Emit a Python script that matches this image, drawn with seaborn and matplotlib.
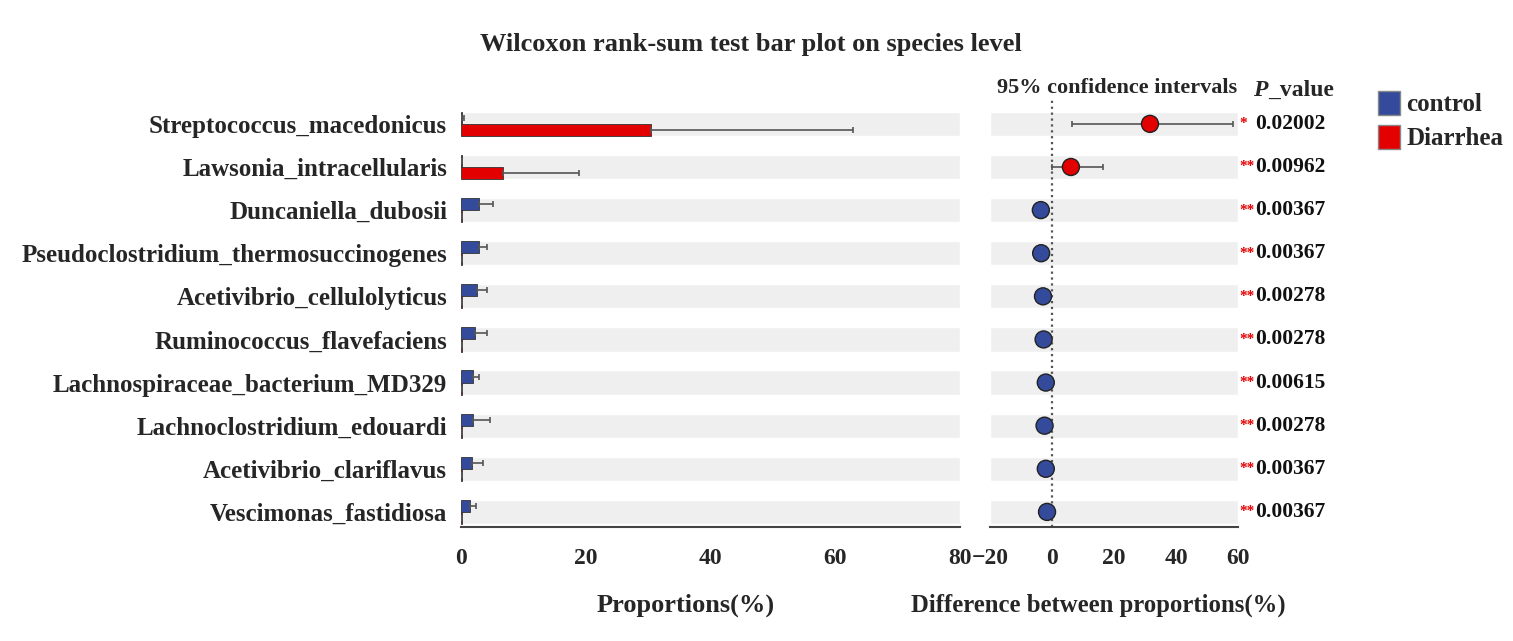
import numpy as np
import pandas as pd
import seaborn as sns
import matplotlib.pyplot as plt
from matplotlib.patches import Patch
from matplotlib.transforms import blended_transform_factory

# data
species = [
    'Streptococcus_macedonicus', 'Lawsonia_intracellularis', 'Duncaniella_dubosii',
    'Pseudoclostridium_thermosuccinogenes', 'Acetivibrio_cellulolyticus',
    'Ruminococcus_flavefaciens', 'Lachnospiraceae_bacterium_MD329',
    'Lachnoclostridium_edouardi', 'Acetivibrio_clariflavus', 'Vescimonas_fastidiosa',
]
groups = ['control', 'Diarrhea']
control_mean = [0.2, 0.1, 2.9, 2.9, 2.6, 2.2, 2.0, 1.9, 1.8, 1.4]
control_err = [0.3, 0.1, 2.2, 1.2, 1.6, 2.0, 0.9, 2.7, 1.8, 1.0]
diarrhea_mean = [30.4, 6.7, 0.1, 0.1, 0.1, 0.1, 0.1, 0.1, 0.1, 0.1]
diarrhea_err = [32.4, 12.2, 0.1, 0.1, 0.1, 0.1, 0.1, 0.1, 0.1, 0.1]
diff = [31.6, 6.1, -3.6, -3.5, -2.9, -2.7, -2.0, -2.4, -2.0, -1.6]
ci_low = [6.3, 0.0, -5.0, -4.9, -4.2, -4.0, -3.2, -3.6, -3.1, -2.7]
ci_high = [58.5, 16.6, -2.2, -2.1, -1.6, -1.4, -0.8, -1.2, -0.9, -0.5]
enriched = ['Diarrhea', 'Diarrhea', 'control', 'control', 'control',
            'control', 'control', 'control', 'control', 'control']
stars = ['*', '**', '**', '**', '**', '**', '**', '**', '**', '**']
p_values = ['0.02002', '0.00962', '0.00367', '0.00367', '0.00278',
            '0.00278', '0.00615', '0.00278', '0.00367', '0.00367']

BLUE = '#344a9a'
RED = '#e30000'
BAND = '#efefef'
palette = {'control': BLUE, 'Diarrhea': RED}

sns.set_style('white')
plt.rcParams['font.family'] = ['Liberation Serif', 'DejaVu Serif']
plt.rcParams['font.weight'] = 'bold'

bars = pd.DataFrame({
    'species': species * 2,
    'group': ['control'] * len(species) + ['Diarrhea'] * len(species),
    'value': control_mean + diarrhea_mean,
    'err': control_err + diarrhea_err,
})
points = pd.DataFrame({'species': species, 'diff': diff, 'group': enriched,
                       'lo': ci_low, 'hi': ci_high})

fig = plt.figure(figsize=(15.13, 6.41), dpi=100)
W, H = 1513, 641
bottom, top = 1 - 527 / H, 1 - 98 / H
ax_l = fig.add_axes([461 / W, bottom, (960 - 461) / W, top - bottom])
ax_r = fig.add_axes([990 / W, bottom, (1238 - 990) / W, top - bottom])

n = len(species)
ypos = np.arange(n)

# left panel: background bands + paired bars
ax_l.barh(ypos, 80, height=0.56, color=BAND, zorder=0)
sns.barplot(data=bars, x='value', y='species', hue='group', hue_order=groups,
            order=species, palette=palette, orient='h', width=0.56, errorbar=None,
            saturation=1, edgecolor='#333333', linewidth=0.6, legend=False,
            ax=ax_l, zorder=2)
for patch, err in zip([p for p in ax_l.patches if p.get_height() < 0.5], bars['err']):
    yc = patch.get_y() + patch.get_height() / 2
    xv = patch.get_width()
    ax_l.errorbar(xv, yc, xerr=[[0], [err]], fmt='none', ecolor='#555555',
                  elinewidth=1.2, capsize=2.5, capthick=1.2, zorder=3)

ax_l.set_xlim(0, 80)
ax_l.set_ylim(9.35, -0.6)
ax_l.set_xticks([0, 20, 40, 60, 80])
ax_l.set_xlabel('')
ax_l.set_ylabel('')
ax_l.tick_params(axis='y', length=0, pad=10, labelsize=18)
ax_l.tick_params(axis='x', direction='in', length=8, width=1.5, color='#444444',
                 labelsize=17, pad=15)
for s in ['top', 'right', 'left']:
    ax_l.spines[s].set_visible(False)
ax_l.spines['bottom'].set_color('#444444')
ax_l.spines['bottom'].set_linewidth(1.5)

# right panel: differences with 95% CI
ax_r.barh(ypos, 80, left=-20, height=0.56, color=BAND, zorder=0)
ax_r.axvline(0, ls=':', color='#555555', lw=1.6, zorder=1)
ax_r.errorbar(points['diff'], ypos,
              xerr=[points['diff'] - points['lo'], points['hi'] - points['diff']],
              fmt='none', ecolor='#555555', elinewidth=1.2, capsize=2.5,
              capthick=1.2, zorder=2)
sns.scatterplot(data=points, x='diff', y='species', hue='group', palette=palette,
                s=150, edgecolor='#222222', linewidth=1, legend=False, ax=ax_r,
                zorder=3)
ax_r.set_xlim(-20, 60)
ax_r.set_ylim(9.35, -0.6)
ax_r.set_xticks([-20, 0, 20, 40, 60])
ax_r.set_xticklabels(['\u221220', '0', '20', '40', '60'])
ax_r.set_yticks([])
ax_r.set_xlabel('')
ax_r.set_ylabel('')
ax_r.tick_params(axis='x', direction='in', length=8, width=1.5, color='#444444',
                 labelsize=17, pad=15)
for s in ['top', 'right', 'left']:
    ax_r.spines[s].set_visible(False)
ax_r.spines['bottom'].set_color('#444444')
ax_r.spines['bottom'].set_linewidth(1.5)

trans = blended_transform_factory(ax_r.transAxes, ax_r.transData)
for i in range(n):
    ax_r.text(1.005, i, stars[i], transform=trans, color=RED, fontsize=11,
              ha='left', va='center')
    ax_r.text(1.07, i, p_values[i], transform=trans, color='#111111', fontsize=15.5,
              ha='left', va='center')

# texts
fig.text(751 / W, 1 - 45 / H, 'Wilcoxon rank-sum test bar plot on species level',
         ha='center', va='center', fontsize=19, fontweight='bold')
fig.text(1117 / W, 1 - 88 / H, '95% confidence intervals', ha='center',
         va='center', fontsize=16, fontweight='bold')
fig.text(1253 / W, 1 - 90 / H, 'P', ha='left', va='center', fontsize=17,
         fontweight='bold', fontstyle='italic')
fig.text(1268 / W, 1 - 90 / H, '_value', ha='left', va='center', fontsize=17,
         fontweight='bold')
fig.text(686 / W, 1 - 605 / H, 'Proportions(%)', ha='center', va='center',
         fontsize=19, fontweight='bold')
fig.text(1098 / W, 1 - 605 / H, 'Difference between proportions(%)', ha='center',
         va='center', fontsize=17.8, fontweight='bold')

handles = [Patch(facecolor=palette[g], edgecolor='#888888', label=g) for g in groups]
fig.legend(handles=handles, loc='upper left', bbox_to_anchor=(1355 / W, 1 - 68 / H),
           frameon=False, handlelength=0.9, handleheight=1.1, handletextpad=0.25,
           labelspacing=0.35, prop={'size': 18, 'weight': 'bold'})

fig.savefig('out.png', dpi=100)
